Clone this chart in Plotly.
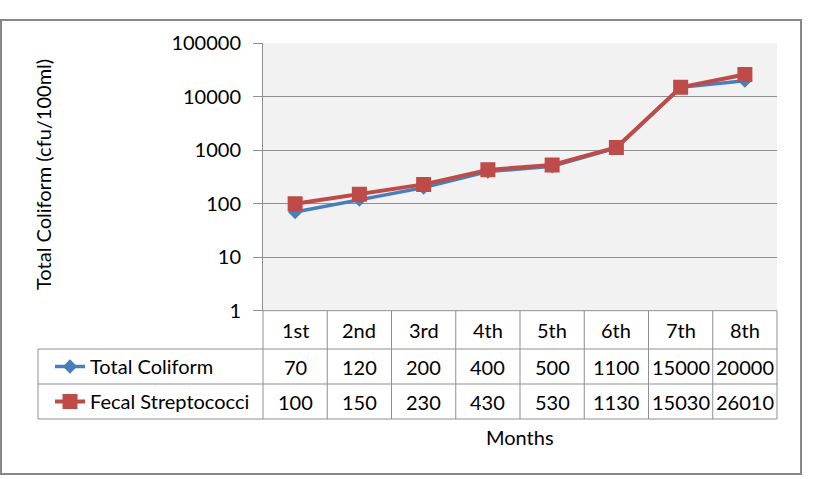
import plotly.graph_objects as go

W, H = 814, 479

months = ["1st", "2nd", "3rd", "4th", "5th", "6th", "7th", "8th"]
total_coliform = [70, 120, 200, 400, 500, 1100, 15000, 20000]
fecal_strep = [100, 150, 230, 430, 530, 1130, 15030, 26010]
series_names = ["Total Coliform", "Fecal Streptococci"]
y_tickvals = [1, 10, 100, 1000, 10000, 100000]
y_ticktext = ["1", "10", "100", "1000", "10000", "100000"]

FONT = "Lato"
FS = 20
GRID = "#8f8f8f"
BLUE = "#4a7ebb"
RED = "#be4b48"

def px(x):
    return x / W

def py(y):
    return 1 - y / H

# plot area in pixels
PL, PR, PT, PB = 263, 777, 43.3, 310.7
ROW1, ROW2, ROW3 = 349, 384, 419
LEG_L = 38

fig = go.Figure()
fig.add_trace(go.Scatter(
    x=months, y=total_coliform, name=series_names[0], mode="lines+markers",
    line=dict(color=BLUE, width=3.5), marker=dict(symbol="diamond", size=11, color=BLUE),
    legend="legend"))
fig.add_trace(go.Scatter(
    x=months, y=fecal_strep, name=series_names[1], mode="lines+markers",
    line=dict(color=RED, width=4), marker=dict(symbol="square", size=15, color=RED),
    legend="legend2"))

shapes = []
# outer chart border
shapes.append(dict(type="rect", xref="paper", yref="paper", x0=px(1), x1=px(801), y0=py(20), y1=py(474),
                   line=dict(color="#878787", width=2), fillcolor="rgba(0,0,0,0)", layer="below"))
# table grid
n = len(months)
colw = (PR - PL) / n
for yy in (ROW1, ROW2, ROW3):
    shapes.append(dict(type="line", xref="paper", yref="paper", x0=px(LEG_L), x1=px(PR), y0=py(yy), y1=py(yy),
                       line=dict(color=GRID, width=1)))
shapes.append(dict(type="line", xref="paper", yref="paper", x0=px(PL), x1=px(PR), y0=py(PB), y1=py(PB),
                   line=dict(color=GRID, width=1)))
for k in range(n + 1):
    xx = PL + k * colw
    shapes.append(dict(type="line", xref="paper", yref="paper", x0=px(xx), x1=px(xx), y0=py(PB), y1=py(ROW3),
                       line=dict(color=GRID, width=1)))
shapes.append(dict(type="line", xref="paper", yref="paper", x0=px(LEG_L), x1=px(LEG_L), y0=py(ROW1), y1=py(ROW3),
                   line=dict(color=GRID, width=1)))

annotations = []
tf = dict(family=FONT, size=FS, color="#000000")
for i, m in enumerate(months):
    annotations.append(dict(x=m, xref="x", y=py((PB + ROW1) / 2), yref="paper", text=m,
                            showarrow=False, font=tf, xanchor="center", yanchor="middle"))
    annotations.append(dict(x=m, xref="x", y=py((ROW1 + ROW2) / 2), yref="paper", text=str(total_coliform[i]),
                            showarrow=False, font=tf, xanchor="center", yanchor="middle"))
    annotations.append(dict(x=m, xref="x", y=py((ROW2 + ROW3) / 2), yref="paper", text=str(fecal_strep[i]),
                            showarrow=False, font=tf, xanchor="center", yanchor="middle"))
annotations.append(dict(x=px((PL + PR) / 2), xref="paper", y=py(437), yref="paper", text="Months",
                        showarrow=False, font=tf, xanchor="center", yanchor="middle"))
annotations.append(dict(x=px(43), xref="paper", y=py(175), yref="paper",
                        text="Total Coliform (cfu/100ml)", textangle=-90,
                        showarrow=False, font=tf, xanchor="center", yanchor="middle"))

fig.update_layout(
    width=W, height=H,
    margin=dict(l=0, r=0, t=0, b=0, autoexpand=False),
    paper_bgcolor="white",
    plot_bgcolor="#f2f2f2",
    font=dict(family=FONT, size=FS, color="#000000"),
    shapes=shapes,
    annotations=annotations,
    xaxis=dict(domain=[px(PL), px(PR)], type="category", range=[-0.5, n - 0.5], automargin=False,
               showticklabels=False, showgrid=False, zeroline=False, showline=False, ticks=""),
    yaxis=dict(domain=[py(PB), py(PT)], type="log", range=[0, 5], automargin=False,
               tickvals=y_tickvals, ticktext=y_ticktext,
               showgrid=True, gridcolor=GRID, gridwidth=1,
               showline=True, linecolor=GRID, linewidth=1,
               ticks="outside", ticklen=9, tickcolor=GRID,
               zeroline=False, tickfont=dict(family=FONT, size=FS), ticklabelstandoff=8),
    legend=dict(x=px(50), y=py((ROW1 + ROW2) / 2), xanchor="left", yanchor="middle",
                bgcolor="rgba(0,0,0,0)", borderwidth=0, font=dict(family=FONT, size=FS)),
    legend2=dict(x=px(50), y=py((ROW2 + ROW3) / 2), xanchor="left", yanchor="middle",
                 bgcolor="rgba(0,0,0,0)", borderwidth=0, font=dict(family=FONT, size=FS)),
    showlegend=True,
)

fig.write_html("out.html")
